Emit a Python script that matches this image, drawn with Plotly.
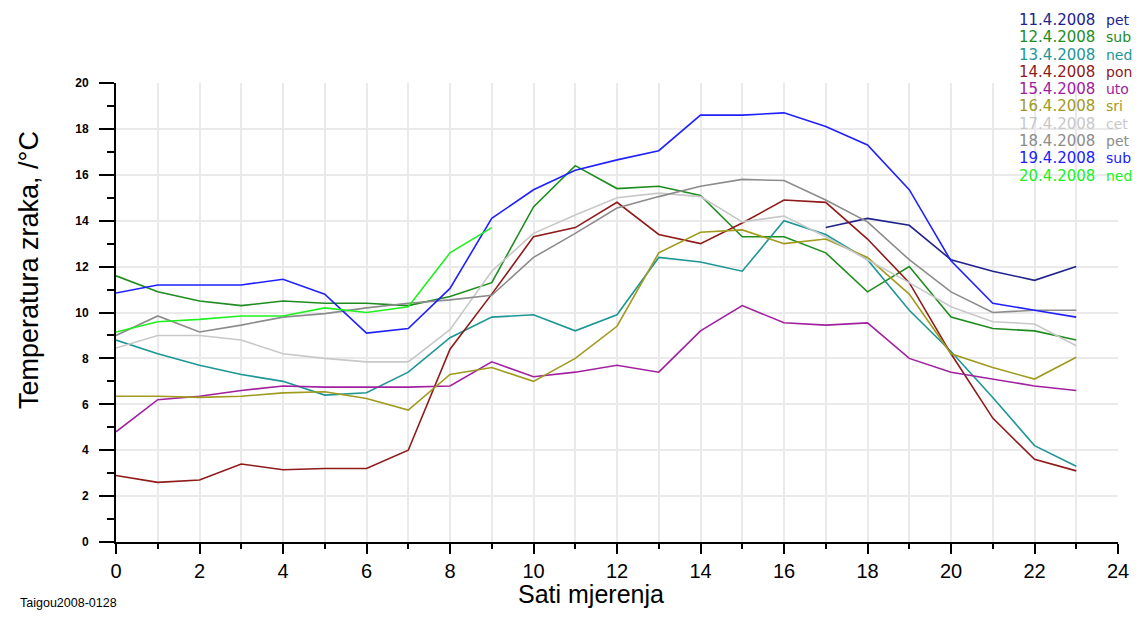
import plotly.graph_objects as go

hours = list(range(24))

dates = ["11.4.2008", "12.4.2008", "13.4.2008", "14.4.2008", "15.4.2008",
         "16.4.2008", "17.4.2008", "18.4.2008", "19.4.2008", "20.4.2008"]
days = ["pet", "sub", "ned", "pon", "uto", "sri", "cet", "pet", "sub", "ned"]
colors = ["#22228E", "#1E8C1E", "#1E9696", "#8E1A1A", "#A020A0",
          "#A09A1E", "#C8C8C8", "#8C8C8C", "#2020FF", "#20F020"]

t_11_4 = [None] * 17 + [13.7, 14.1, 13.8, 12.3, 11.8, 11.4, 12.0]
t_12_4 = [11.6, 10.9, 10.5, 10.3, 10.5, 10.4, 10.4, 10.3, 10.7, 11.3, 14.6, 16.4,
          15.4, 15.5, 15.1, 13.3, 13.3, 12.6, 10.9, 12.0, 9.8, 9.3, 9.2, 8.8]
t_13_4 = [8.8, 8.2, 7.7, 7.3, 7.0, 6.4, 6.5, 7.4, 8.9, 9.8, 9.9, 9.2,
          9.9, 12.4, 12.2, 11.8, 14.0, 13.4, 12.3, 10.1, 8.3, 6.3, 4.2, 3.3]
t_14_4 = [2.9, 2.6, 2.7, 3.4, 3.15, 3.2, 3.2, 4.0, 8.4, 10.8, 13.3, 13.7,
          14.8, 13.4, 13.0, 13.9, 14.9, 14.8, 13.2, 11.3, 8.2, 5.4, 3.6, 3.1]
t_15_4 = [4.8, 6.2, 6.35, 6.6, 6.8, 6.75, 6.75, 6.75, 6.8, 7.85, 7.2, 7.4,
          7.7, 7.4, 9.2, 10.3, 9.55, 9.45, 9.55, 8.0, 7.4, 7.1, 6.8, 6.6]
t_16_4 = [6.35, 6.35, 6.3, 6.35, 6.5, 6.55, 6.25, 5.75, 7.3, 7.6, 7.0, 8.0,
          9.4, 12.6, 13.5, 13.6, 13.0, 13.2, 12.4, 10.8, 8.2, 7.6, 7.1, 8.05]
t_17_4 = [8.45, 9.0, 9.0, 8.8, 8.2, 8.0, 7.85, 7.85, 9.25, 11.8, 13.45, 14.25,
          15.0, 15.2, 15.05, 13.95, 14.2, 13.3, 12.3, 11.3, 10.25, 9.6, 9.5, 8.55]
t_18_4 = [9.0, 9.85, 9.15, 9.45, 9.8, 9.95, 10.2, 10.4, 10.55, 10.75, 12.4, 13.45,
          14.55, 15.05, 15.5, 15.8, 15.75, 14.9, 13.95, 12.3, 10.9, 10.0, 10.1, 10.1]
t_19_4 = [10.85, 11.2, 11.2, 11.2, 11.45, 10.8, 9.1, 9.3, 11.05, 14.1, 15.35, 16.2,
          16.65, 17.05, 18.6, 18.6, 18.7, 18.1, 17.3, 15.35, 12.25, 10.4, 10.1, 9.8]
t_20_4 = [9.15, 9.6, 9.7, 9.85, 9.85, 10.2, 10.0, 10.25, 12.6, 13.7] + [None] * 14

series = [t_11_4, t_12_4, t_13_4, t_14_4, t_15_4,
          t_16_4, t_17_4, t_18_4, t_19_4, t_20_4]

x_ticks = list(range(0, 25, 2))
y_ticks = list(range(0, 21, 2))

fig = go.Figure()
for d, dn, c, s in zip(dates, days, colors, series):
    fig.add_trace(go.Scatter(x=hours, y=s, mode="lines", name=f"{d} {dn}",
                             line=dict(color=c, width=1.6), connectgaps=False,
                             showlegend=False))

# the page body has an 8px margin; compensate so the window layout matches
OFF = 8
W, H = 1141 - 2 * OFF, 618 - 2 * OFF
L, R, T = 116 - OFF, 1141 - OFF - 1118, 83 - OFF
B = H - (542 - OFF)
pw, ph = W - L - R, H - T - B


def px(xp):
    return (xp - OFF - L) / pw


def py(yp):
    return (H - B - (yp - OFF)) / ph


annotations = []
for i, (d, dn, c) in enumerate(zip(dates, days, colors)):
    yy = py(20 + 17.3 * i)
    annotations.append(dict(x=px(1017), y=yy, xref="paper", yref="paper", text=d,
                            showarrow=False, xanchor="left", yanchor="middle",
                            font=dict(family="DejaVu Sans", size=15, color=c)))
    annotations.append(dict(x=px(1105), y=yy, xref="paper", yref="paper", text=dn,
                            showarrow=False, xanchor="left", yanchor="middle",
                            borderpad=0,
                            font=dict(family="DejaVu Sans", size=14, color=c)))

annotations.append(dict(x=px(591), y=py(594), xref="paper", yref="paper",
                        text="Sati mjerenja", showarrow=False,
                        xanchor="center", yanchor="middle",
                        font=dict(family="Arial, Liberation Sans", size=25, color="black")))
annotations.append(dict(x=px(29), y=py(270), xref="paper", yref="paper",
                        text="Temperatura zraka, /°C", showarrow=False, textangle=-90,
                        xanchor="center", yanchor="middle",
                        font=dict(family="Arial, Liberation Sans", size=27, color="black")))
annotations.append(dict(x=px(19), y=py(603), xref="paper", yref="paper",
                        text="Taigou2008-0128", showarrow=False,
                        xanchor="left", yanchor="middle", borderpad=0,
                        font=dict(family="Arial, Liberation Sans", size=12.5, color="black")))

fig.update_layout(
    width=W, height=H,
    margin=dict(l=L, r=R, t=T, b=B, autoexpand=False),
    paper_bgcolor="white", plot_bgcolor="white",
    annotations=annotations,
    xaxis=dict(range=[0, 24], tickvals=x_ticks, ticktext=[str(v) for v in x_ticks],
               automargin=False,
               ticks="outside", ticklen=10, tickwidth=2, tickcolor="black",
               showline=True, linecolor="black", linewidth=2,
               showgrid=True, gridcolor="#EAEAEA", gridwidth=1.5, zeroline=False,
               tickfont=dict(family="Arial, Liberation Sans", size=20, color="black"),
               minor=dict(dtick=1, ticks="outside", ticklen=5, tickwidth=2,
                          tickcolor="black", showgrid=True, gridcolor="#EAEAEA",
                          gridwidth=1.5)),
    yaxis=dict(range=[0, 20], tickvals=y_ticks, ticktext=[str(v) for v in y_ticks],
               automargin=False,
               ticks="outside", ticklen=15, tickwidth=2, tickcolor="black",
               showline=True, linecolor="black", linewidth=2,
               showgrid=True, gridcolor="#EAEAEA", gridwidth=1.5, zeroline=False,
               ticklabelstandoff=8,
               tickfont=dict(family="Arial, Liberation Sans", size=12, color="black",
                             weight="bold"),
               minor=dict(dtick=1, ticks="outside", ticklen=7, tickwidth=2,
                          tickcolor="black", showgrid=False)),
)

fig.write_html("out.html")
